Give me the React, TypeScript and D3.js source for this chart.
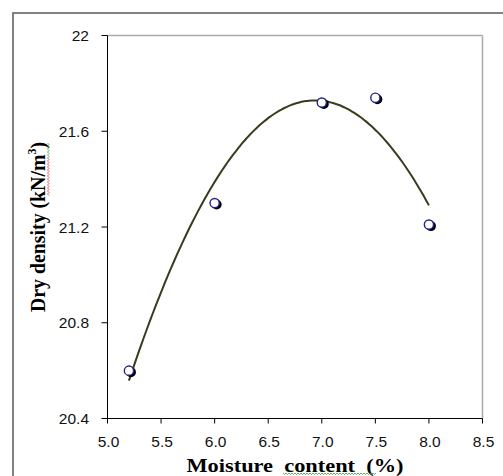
import React from "react";
import * as d3 from "d3";

const moisture = [5.2, 6.0, 7.0, 7.5, 8.0];
const dryDensity = [20.6, 21.3, 21.72, 21.74, 21.21];
const xTicks = [5.0, 5.5, 6.0, 6.5, 7.0, 7.5, 8.0, 8.5];
const yTicks = [20.4, 20.8, 21.2, 21.6, 22];
const yTickLabels = ["20.4", "20.8", "21.2", "21.6", "22"];
const xTitle = "Moisture  content  (%)";
const yTitleMain = "Dry density (kN/m";
const yTitleSup = "3";
const yTitleEnd = ")";

const W = 503;
const H = 476;
const L = 107.5, R = 482.5, T = 35.5, B = 418.5;

// least squares quadratic fit (trend line)
function quadFit(xs: number[], ys: number[]) {
  const S = (f: (x: number, y: number) => number) => xs.reduce((a, x, i) => a + f(x, ys[i]), 0);
  const n = xs.length;
  const s1 = S((x) => x), s2 = S((x) => x * x), s3 = S((x) => x ** 3), s4 = S((x) => x ** 4);
  const t0 = S((x, y) => y), t1 = S((x, y) => x * y), t2 = S((x, y) => x * x * y);
  const A = [
    [n, s1, s2, t0],
    [s1, s2, s3, t1],
    [s2, s3, s4, t2],
  ];
  for (let i = 0; i < 3; i++) {
    for (let k = i + 1; k < 3; k++) {
      const f = A[k][i] / A[i][i];
      for (let j = i; j < 4; j++) A[k][j] -= f * A[i][j];
    }
  }
  const c = [0, 0, 0];
  for (let i = 2; i >= 0; i--) {
    let s = A[i][3];
    for (let j = i + 1; j < 3; j++) s -= A[i][j] * c[j];
    c[i] = s / A[i][i];
  }
  return (x: number) => c[0] + c[1] * x + c[2] * x * x;
}

function squiggle(x0: number, y0: number, len: number, vertical: boolean) {
  const pts: string[] = [];
  const step = 1.5;
  for (let i = 0, k = 0; i <= len; i += step, k++) {
    const off = k % 2 === 0 ? 0 : 1.5;
    pts.push(vertical ? `${x0 + off},${y0 + i}` : `${x0 + i},${y0 + off}`);
  }
  return "M" + pts.join("L");
}

export default function App() {
  const x = d3.scaleLinear().domain([5, 8.5]).range([L, R]);
  const y = d3.scaleLinear().domain([20.4, 22]).range([B, T]);
  const fit = quadFit(moisture, dryDensity);
  const xmin = d3.min(moisture)!, xmax = d3.max(moisture)!;
  const samples = d3.range(0, 101).map((i) => xmin + ((xmax - xmin) * i) / 100);
  const line = d3
    .line<number>()
    .x((d) => x(d))
    .y((d) => y(fit(d)))
    .curve(d3.curveMonotoneX);
  const fmtX = d3.format(".1f");
  const tickFont = "Arial, 'Liberation Sans', sans-serif";
  const serif = "'Times New Roman', 'Liberation Serif', serif";
  const cy = (T + B) / 2;
  const cx = (L + R) / 2;

  return (
    <svg width={W} height={H} style={{ position: "absolute", left: 0, top: 0, background: "#fff" }}>
      <rect x={0} y={0} width={W} height={H} fill="#fff" />
      <rect x={13} y={13} width={W + 10} height={H + 10} fill="none" stroke="#5a5a5a" strokeWidth={1.5} />
      {/* plot frame */}
      <line x1={L} y1={T} x2={R} y2={T} stroke="#ababab" strokeWidth={1.5} />
      <line x1={R} y1={T} x2={R} y2={B} stroke="#ababab" strokeWidth={1.5} />
      <line x1={L} y1={T} x2={L} y2={B} stroke="#000" strokeWidth={1} />
      <line x1={L} y1={B} x2={R} y2={B} stroke="#000" strokeWidth={1} />
      {/* y ticks */}
      {yTicks.map((t, i) => (
        <g key={"y" + i}>
          <line x1={L - 6} x2={L} y1={y(t)} y2={y(t)} stroke="#000" strokeWidth={1} />
          <text x={89} y={y(t)} dy="0.36em" textAnchor="end" fontFamily={tickFont} fontSize={15.5} fill="#111">
            {yTickLabels[i]}
          </text>
        </g>
      ))}
      {/* x ticks */}
      {xTicks.map((t, i) => (
        <g key={"x" + i}>
          <line x1={x(t)} x2={x(t)} y1={B} y2={B + 5} stroke="#000" strokeWidth={1} />
          <text x={x(t) + 1} y={446.5} textAnchor="middle" fontFamily={tickFont} fontSize={15.5} fill="#111">
            {fmtX(t)}
          </text>
        </g>
      ))}
      {/* trend line */}
      <path d={line(samples) || ""} fill="none" stroke="#3b3b1c" strokeWidth={2} />
      {/* markers */}
      {moisture.map((m, i) => (
        <g key={"p" + i}>
          <circle cx={x(m) + 2} cy={y(dryDensity[i]) + 1.5} r={5} fill="#000" />
          <circle cx={x(m)} cy={y(dryDensity[i])} r={4.6} fill="#fff" stroke="#22228a" strokeWidth={1.4} />
        </g>
      ))}
      {/* axis titles */}
      <text
        x={cx}
        y={472}
        textAnchor="middle"
        fontFamily={serif}
        fontWeight="bold"
        fontSize={19.5}
        fill="#000"
        style={{ whiteSpace: "pre" }}
        textLength={217}
        lengthAdjust="spacingAndGlyphs"
      >
        {xTitle}
      </text>
      <text
        transform={`translate(45,${cy}) rotate(-90)`}
        textAnchor="middle"
        fontFamily={serif}
        fontWeight="bold"
        fontSize={20}
        fill="#000"
        textLength={170}
        lengthAdjust="spacingAndGlyphs"
      >
        <tspan>{yTitleMain}</tspan>
        <tspan fontSize={12} dy={-9}>{yTitleSup}</tspan>
        <tspan dy={9}>{yTitleEnd}</tspan>
      </text>
      {/* spell-check squiggles */}
      <path d={squiggle(47.5, 158, 38, true)} fill="none" stroke="#e03030" strokeWidth={0.8} />
      <path d={squiggle(47.5, 143, 15, true)} fill="none" stroke="#30a030" strokeWidth={0.8} />
      <path d={squiggle(283, 473, 94, false)} fill="none" stroke="#30a030" strokeWidth={0.8} />
    </svg>
  );
}
